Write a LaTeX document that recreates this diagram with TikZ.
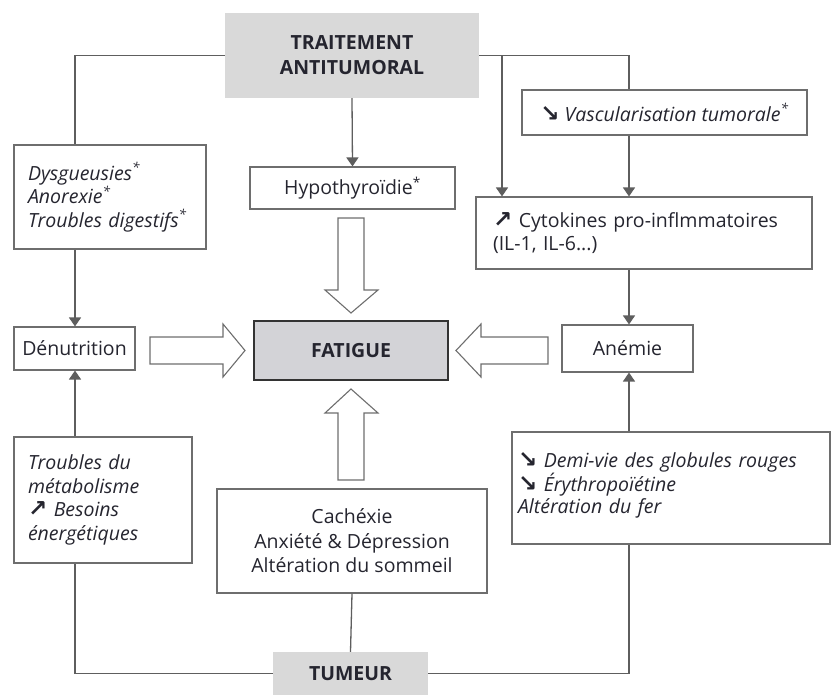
\documentclass[tikz,border=0pt]{standalone}
\usepackage{fontspec}
\setmainfont{Open Sans}
\newfontfamily\symf{DejaVu Sans}
\usetikzlibrary{arrows.meta}
\newcommand{\sdown}{{\symf\bfseries\fontsize{23}{17}\selectfont ↘}}
\newcommand{\supar}{{\symf\bfseries\fontsize{23}{17}\selectfont ↗}}
\newcommand{\sstar}{\textsuperscript{*}}
\definecolor{boxgray}{HTML}{6E6E6E}
\definecolor{linegray}{HTML}{5E5E5E}
\definecolor{fillgray}{HTML}{D9D9D9}
\definecolor{fatfill}{HTML}{D3D3D7}
\definecolor{txt}{HTML}{25252F}
\begin{document}
\begin{tikzpicture}[x=1pt,y=-1pt,
  every node/.style={text=txt, font=\fontsize{19.5}{23.5}\selectfont},
  box/.style={draw=boxgray, line width=1.1pt, fill=white, inner sep=0pt, align=center},
  lbox/.style={draw=boxgray, line width=1.1pt, fill=white, inner ysep=0pt, align=left},
  head/.style={fill=fillgray, inner sep=0pt, align=center, font=\fontsize{19.5}{25}\selectfont\bfseries},
  line/.style={draw=linegray, line width=1.3pt},
  arr/.style={line, -{Triangle[width=12pt,length=9pt]}},
  blockarr/.style={draw=boxgray, line width=1.1pt, fill=white}]
\useasboundingbox (0,0) rectangle (833,695);

% helper x positions
\coordinate (lx) at (75,0);
\coordinate (mx) at (502,0);
\coordinate (rx) at (629,0);

% nodes
\node[head, minimum width=254pt, minimum height=85pt] (trait) at (352,55.5) {TRAITEMENT\\ANTITUMORAL};
\node[lbox, text width=164pt, inner xsep=14pt, minimum height=104pt] (dysg) at (110,197)
  {\itshape Dysgueusies\sstar\\Anorexie\sstar\\Troubles digestifs\sstar};
\node[box, minimum width=205pt, minimum height=42pt] (hypo) at (352.5,188) {Hypothyroïdie\sstar};
\node[box, minimum width=285pt, minimum height=45pt] (vasc) at (664.5,112.5)
  {\sdown\ \textit{Vascularisation tumorale\sstar}};
\node[lbox, text width=302pt, inner xsep=17pt, minimum height=72pt] (cyto) at (644,233)
  {\supar\ Cytokines pro-inflmmatoires\\(IL-1, IL-6...)};
\node[box, minimum width=121pt, minimum height=43pt] (denut) at (74.5,348.5) {Dénutrition};
\node[box, draw=black!80, line width=2pt, fill=fatfill, minimum width=194pt, minimum height=59pt,
  font=\fontsize{19.5}{23.5}\selectfont\bfseries] (fat) at (351,350.5) {FATIGUE};
\node[box, minimum width=131pt, minimum height=47pt] (anem) at (627.5,348.5) {Anémie};
\node[lbox, text width=150pt, inner xsep=14pt, minimum height=126pt] (troub) at (103,500)
  {\itshape Troubles du\\métabolisme\\\supar\ Besoins\\énergétiques};
\node[box, minimum width=270pt, minimum height=104pt, font=\fontsize{19.5}{24.5}\selectfont] (cach) at (352,541)
  {Cachéxie\\Anxiété \& Dépression\\Altération du sommeil};
\node[lbox, text width=306pt, inner xsep=6pt, text height=35pt, text depth=77pt,
  font=\fontsize{19.5}{22.5}\selectfont] (demi) at (671,488)
  {\sdown\ \textit{Demi-vie des globules rouges}\\\sdown\ \textit{Érythropoïétine}\\\textit{Altération du fer}};
\node[head, minimum width=155pt, minimum height=43pt] (tum) at (350.5,673.5) {TUMEUR};

% connectors
\draw[line] (trait.west) -| (dysg.north -| lx);
\draw[line] (trait.east) -| (vasc.north -| rx);
\draw[arr] (trait.east -| mx) -- (cyto.north -| mx);
\draw[arr] (vasc.south -| rx) -- (cyto.north -| rx);
\draw[arr] (trait.south) -- (hypo.north);
\draw[arr] (dysg.south -| lx) -- (denut.north -| lx);
\draw[arr] (troub.north -| lx) -- (denut.south -| lx);
\draw[arr] (cyto.south -| rx) -- (anem.north -| rx);
\draw[arr] (demi.north -| rx) -- (anem.south -| rx);
\draw[line] (tum.west) -| (troub.south -| lx);
\draw[line] (tum.east) -| (demi.south -| rx);
\draw[line] (cach.south) -- (tum.north);

% block arrows
\draw[blockarr] (150,337) -- (223,337) -- (223,324) -- (245,350.5) -- (223,377) -- (223,364) -- (150,364) -- cycle;
\draw[blockarr] (548,337) -- (481,337) -- (481,324) -- (456,350.5) -- (481,377) -- (481,364) -- (548,364) -- cycle;
\draw[blockarr] (338,218) -- (338,290) -- (325,290) -- (351,313) -- (378,290) -- (364,290) -- (364,218) -- cycle;
\draw[blockarr] (338,480) -- (338,413) -- (325,413) -- (351,389) -- (378,413) -- (364,413) -- (364,480) -- cycle;
\end{tikzpicture}
\end{document}
